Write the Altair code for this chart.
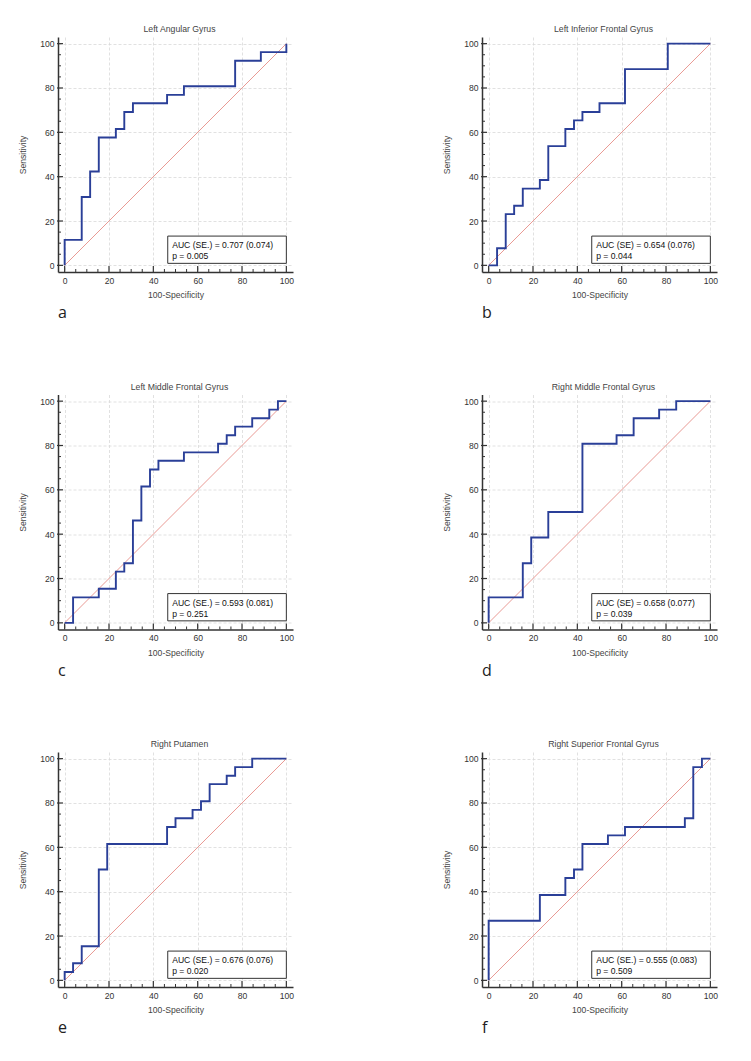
import altair as alt
import pandas as pd

# ---------------- data ----------------
titles = ["Left  Angular  Gyrus", "Left  Inferior  Frontal  Gyrus",
          "Left  Middle  Frontal  Gyrus", "Right  Middle  Frontal  Gyrus",
          "Right  Putamen", "Right  Superior  Frontal  Gyrus"]
letters = ["a", "b", "c", "d", "e", "f"]
auc_text = ["AUC (SE.) = 0.707 (0.074)", "AUC (SE) = 0.654 (0.076)",
            "AUC (SE.) = 0.593 (0.081)", "AUC (SE) = 0.658 (0.077)",
            "AUC (SE.) = 0.676 (0.076)", "AUC (SE.) = 0.555 (0.083)"]
p_text = ["p = 0.005", "p = 0.044", "p = 0.251", "p = 0.039", "p = 0.020", "p = 0.509"]

# ROC operating points (100-Specificity, Sensitivity), drawn as step-after
fpr_a = [0, 0, 7.7, 11.5, 15.4, 23.1, 26.9, 30.8, 46.2, 53.8, 76.9, 88.5, 100]
tpr_a = [0, 11.5, 30.8, 42.3, 57.7, 61.5, 69.2, 73.1, 76.9, 80.8, 92.3, 96.2, 100]

fpr_b = [0, 3.8, 7.7, 11.5, 15.4, 23.1, 26.9, 34.6, 38.5, 42.3, 50, 61.5, 80.8, 100]
tpr_b = [0, 7.7, 23.1, 26.9, 34.6, 38.5, 53.8, 61.5, 65.4, 69.2, 73.1, 88.5, 100, 100]

fpr_c = [0, 3.8, 15.4, 23.1, 26.9, 30.8, 34.6, 38.5, 42.3, 53.8, 69.2, 73.1, 76.9, 84.6, 92.3, 96.2, 100]
tpr_c = [0, 11.5, 15.4, 23.1, 26.9, 46.2, 61.5, 69.2, 73.1, 76.9, 80.8, 84.6, 88.5, 92.3, 96.2, 100, 100]

fpr_d = [0, 0, 15.4, 19.2, 26.9, 42.3, 57.7, 65.4, 76.9, 84.6, 100]
tpr_d = [0, 11.5, 26.9, 38.5, 50, 80.8, 84.6, 92.3, 96.2, 100, 100]

fpr_e = [0, 0, 3.8, 7.7, 15.4, 19.2, 46.2, 50, 57.7, 61.5, 65.4, 73.1, 76.9, 84.6, 100]
tpr_e = [0, 3.8, 7.7, 15.4, 50, 61.5, 69.2, 73.1, 76.9, 80.8, 88.5, 92.3, 96.2, 100, 100]

fpr_f = [0, 0, 23.1, 34.6, 38.5, 42.3, 53.8, 61.5, 88.5, 92.3, 96.2, 100]
tpr_f = [0, 26.9, 38.5, 46.2, 50, 61.5, 65.4, 69.2, 73.1, 96.2, 100, 100]

diag = [0, 100]
major_ticks = [0, 20, 40, 60, 80, 100]
minor_ticks = [5, 10, 15, 25, 30, 35, 45, 50, 55, 65, 70, 75, 85, 90, 95]

curves = [(fpr_a, tpr_a), (fpr_b, tpr_b), (fpr_c, tpr_c),
          (fpr_d, tpr_d), (fpr_e, tpr_e), (fpr_f, tpr_f)]

# ---------------- layout / style ----------------
W = H = 235
DOM = [-3, 103]
PX = W / (DOM[1] - DOM[0])
FONT = "Liberation Sans"
AXC = "#333333"


def py(v):
    return (DOM[1] - v) * PX


def px(v):
    return (v - DOM[0]) * PX


def panel(i):
    fpr, tpr = curves[i]
    xs = alt.Scale(domain=DOM, nice=False, zero=False)
    ys = alt.Scale(domain=DOM, nice=False, zero=False)
    xax = alt.Axis(values=major_ticks, title="100-Specificity", labelPadding=4,
                   titlePadding=6)
    yax = alt.Axis(values=major_ticks, title="Sensitivity", labelPadding=4,
                   titlePadding=12)

    diag_df = pd.DataFrame({"x": diag, "y": diag})
    roc_df = pd.DataFrame({"x": fpr, "y": tpr, "k": list(range(len(fpr)))})
    one = pd.DataFrame({"k": [0]})
    maj = pd.DataFrame({"t": major_ticks})
    mnr = pd.DataFrame({"t": minor_ticks})

    diag_l = alt.Chart(diag_df).mark_line(color="#e99a94", strokeWidth=1.0).encode(
        x=alt.X("x:Q", scale=xs, axis=xax),
        y=alt.Y("y:Q", scale=ys, axis=yax),
    )
    roc_l = alt.Chart(roc_df).mark_line(interpolate="step-after", color="#2a3f98",
                                        strokeWidth=1.9).encode(
        x=alt.X("x:Q", scale=xs, axis=xax),
        y=alt.Y("y:Q", scale=ys, axis=yax),
        order="k:Q",
    )
    box = alt.Chart(one).mark_rect(fill="white", stroke=AXC, strokeWidth=1).encode(
        x=alt.value(px(46.5)), x2=alt.value(px(100)),
        y=alt.value(py(13.2)), y2=alt.value(py(0.9)),
    )
    t1 = alt.Chart(one).mark_text(align="left", baseline="middle", font=FONT,
                                  fontSize=8.6, color="#111").encode(
        x=alt.value(px(48.5)), y=alt.value(py(9.0)), text=alt.value(auc_text[i]))
    t2 = alt.Chart(one).mark_text(align="left", baseline="middle", font=FONT,
                                  fontSize=8.6, color="#111").encode(
        x=alt.value(px(48.5)), y=alt.value(py(4.0)), text=alt.value(p_text[i]))

    xmaj = alt.Chart(maj).mark_rule(color=AXC, strokeWidth=1.2).encode(
        x=alt.X("t:Q", scale=xs, axis=xax), y=alt.value(H), y2=alt.value(H - 6))
    xmin = alt.Chart(mnr).mark_rule(color=AXC, strokeWidth=1).encode(
        x=alt.X("t:Q", scale=xs, axis=xax), y=alt.value(H), y2=alt.value(H - 3))
    ymaj = alt.Chart(maj).mark_rule(color=AXC, strokeWidth=1.2).encode(
        y=alt.Y("t:Q", scale=ys, axis=yax), x=alt.value(-1), x2=alt.value(5))
    ymin = alt.Chart(mnr).mark_rule(color=AXC, strokeWidth=1).encode(
        y=alt.Y("t:Q", scale=ys, axis=yax), x=alt.value(0), x2=alt.value(3))

    let = alt.Chart(one).mark_text(align="left", baseline="middle", font="Open Sans",
                                   fontSize=16, color="#222").encode(
        x=alt.value(0), y=alt.value(H + 41), text=alt.value(letters[i]))

    return alt.layer(diag_l, roc_l, box, t1, t2, xmaj, xmin, ymaj, ymin, let).properties(
        width=W, height=H,
        title=alt.TitleParams(titles[i], fontSize=8.7, font=FONT, color="#444",
                              fontWeight="normal", offset=3, dx=4),
    )


chart = alt.concat(*[panel(i) for i in range(6)], columns=2,
                   spacing={"row": 122.5, "column": 189}, bounds="flush").properties(
    padding={"left": 18, "top": 25, "right": 5, "bottom": 5},
    background="white",
).configure_view(stroke=None).configure_axis(
    labelFont=FONT, labelFontSize=8.6, labelColor="#333",
    titleFont=FONT, titleFontSize=8.6, titleColor="#444", titleFontWeight="normal",
    domainColor=AXC, domainWidth=1.5,
    gridColor="#d9d9d9", gridDash=[3, 2], gridWidth=0.8,
    ticks=False, tickSize=0,
)

chart.save("out.html", embed_options={"renderer": "svg", "actions": False})
